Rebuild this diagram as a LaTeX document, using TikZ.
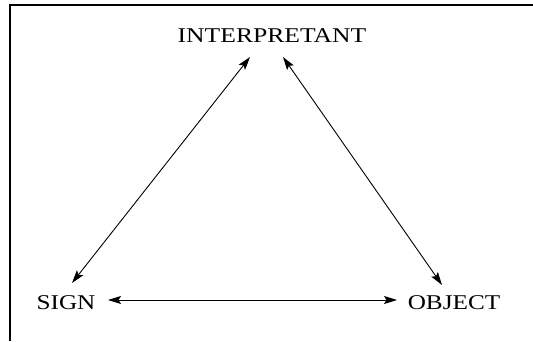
\documentclass[tikz,border=0pt]{standalone}
\usepackage{fontspec}
\setmainfont{Liberation Serif}
\usetikzlibrary{arrows.meta}
\begin{document}
\begin{tikzpicture}[x=1pt,y=1pt,
  lbl/.style={inner sep=0pt, font=\fontsize{21}{24}\selectfont},
  link/.style={{Stealth[length=13pt,width=8pt,inset=2.5pt]}-{Stealth[length=13pt,width=8pt,inset=2.5pt]}, line width=0.9pt},
  frame/.style={line width=1.4pt}]
\useasboundingbox[fill=white] (0,0) rectangle (533,341);
\draw[frame] (10,0) -- (10,336) -- (533,336);
\node[lbl] (interp) at (272,305) {\scalebox{1.22}[1]{INTERPRETANT}};
\node[lbl] (sign) at (66,38) {\scalebox{1.2}[1]{SIGN}};
\node[lbl] (object) at (454,38) {\scalebox{1.2}[1]{OBJECT}};
\coordinate (sA) at (72,58);
\coordinate (iA) at (250,284);
\coordinate (iB) at (283,284);
\coordinate (oB) at (442,56);
\coordinate (sC) at (108,41);
\coordinate (oC) at (397,41);
\draw[link] (sA) -- (iA);
\draw[link] (iB) -- (oB);
\draw[link] (sC) -- (oC);
\end{tikzpicture}
\end{document}
